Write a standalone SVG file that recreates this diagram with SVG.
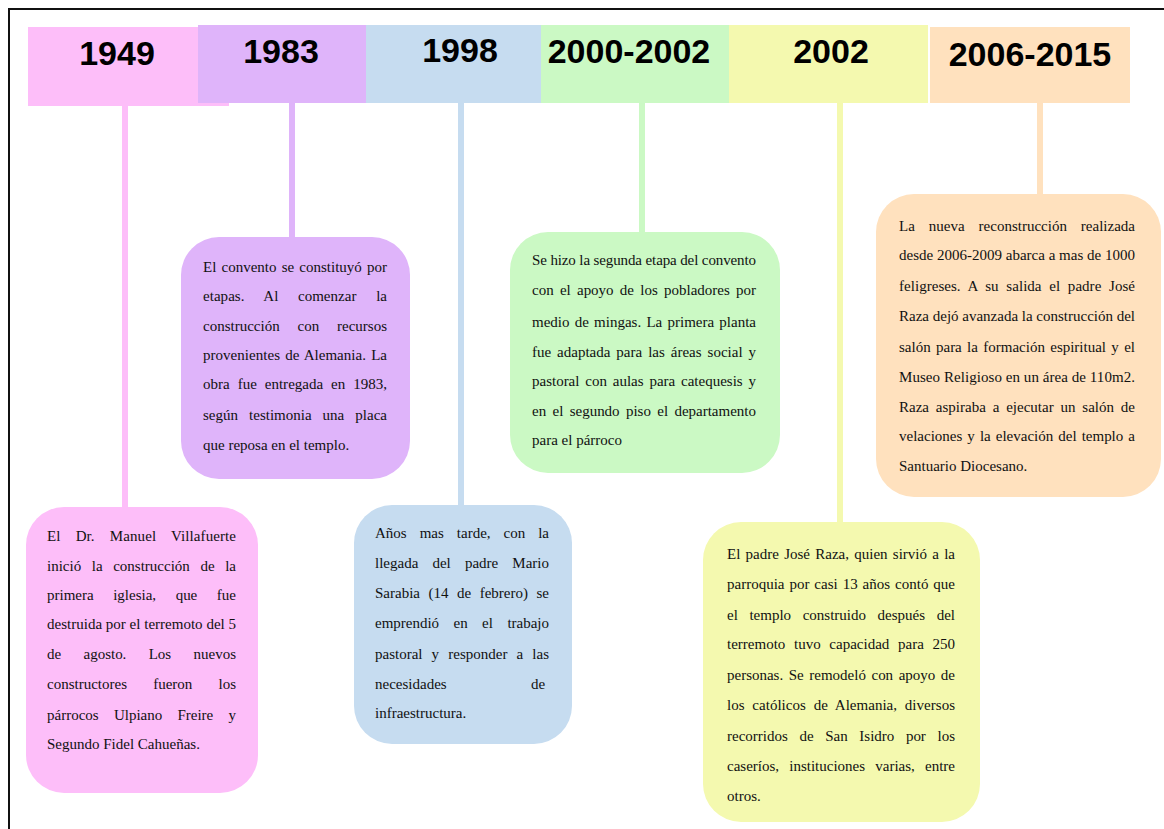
<svg xmlns="http://www.w3.org/2000/svg" width="1164" height="829" viewBox="0 0 1164 829">
<style>
.yr{font-family:"Liberation Sans",Arial,sans-serif;font-weight:bold;font-size:34px;fill:#000;text-anchor:middle}
.t{font-family:"Liberation Serif","Times New Roman",serif;font-size:15px;fill:#111}
.pink{fill:#FDBEF9}.purple{fill:#DFB4FA}.blue{fill:#C6DCF0}.green{fill:#CBF9C4}.yellow{fill:#F4F9AF}.orange{fill:#FFE1BE}
.stem{stroke-width:6}
</style>
<rect width="1164" height="829" fill="#fff"/>
<g id="frame" stroke="#111" stroke-width="2">
<line x1="8" y1="9" x2="1164" y2="9"/>
<line x1="9" y1="8" x2="9" y2="829"/>
</g>
<g id="header">
<rect class="pink" x="28" y="27" width="201" height="79"/>
<rect class="purple" x="198" y="25" width="168" height="78"/>
<rect class="blue" x="366" y="25" width="175" height="78"/>
<rect class="green" x="541" y="25" width="188" height="78"/>
<rect class="yellow" x="729" y="25" width="199" height="78"/>
<rect class="orange" x="930" y="27" width="200" height="76"/>
<text class="yr" x="117" y="65">1949</text>
<text class="yr" x="281" y="63">1983</text>
<text class="yr" x="460" y="62">1998</text>
<text class="yr" x="629" y="63">2000-2002</text>
<text class="yr" x="831" y="63">2002</text>
<text class="yr" x="1030" y="66">2006-2015</text>
</g>
<g id="connectors">
<line class="stem" x1="125" y1="105" x2="125" y2="512" stroke="#FDBEF9"/>
<line class="stem" x1="292" y1="102" x2="292" y2="242" stroke="#DFB4FA"/>
<line class="stem" x1="461" y1="102" x2="461" y2="510" stroke="#C6DCF0"/>
<line class="stem" x1="642" y1="102" x2="642" y2="237" stroke="#CBF9C4"/>
<line class="stem" x1="840" y1="102" x2="840" y2="527" stroke="#F4F9AF"/>
<line class="stem" x1="1040" y1="102" x2="1040" y2="199" stroke="#FFE1BE"/>
</g>
<g id="node-1949">
<rect class="pink" x="26" y="507" width="232" height="286" rx="38"/>
<text class="t">
<tspan x="47" y="541" word-spacing="11.3" textLength="189" lengthAdjust="spacing">El Dr. Manuel Villafuerte</tspan>
<tspan x="47" y="571" word-spacing="6.8" textLength="189" lengthAdjust="spacing">inició la construcción de la</tspan>
<tspan x="47" y="600" word-spacing="15.8" textLength="189" lengthAdjust="spacing">primera iglesia, que fue</tspan>
<tspan x="47" y="629" textLength="189" lengthAdjust="spacing">destruida por el terremoto del 5</tspan>
<tspan x="47" y="659" word-spacing="18.6" textLength="189" lengthAdjust="spacing">de agosto. Los nuevos</tspan>
<tspan x="47" y="689" word-spacing="22.4" textLength="189" lengthAdjust="spacing">constructores fueron los</tspan>
<tspan x="47" y="720" word-spacing="11.5" textLength="189" lengthAdjust="spacing">párrocos Ulpiano Freire y</tspan>
<tspan x="47" y="749">Segundo Fidel Cahueñas.</tspan>
</text>
</g>
<g id="node-1983">
<rect class="purple" x="181" y="237" width="229" height="242" rx="38"/>
<text class="t">
<tspan x="203" y="272" word-spacing="1.4" textLength="184" lengthAdjust="spacing">El convento se constituyó por</tspan>
<tspan x="203" y="301" word-spacing="15.8" textLength="184" lengthAdjust="spacing">etapas. Al comenzar la</tspan>
<tspan x="203" y="331" word-spacing="14.1" textLength="184" lengthAdjust="spacing">construcción con recursos</tspan>
<tspan x="203" y="360" word-spacing="1.3" textLength="184" lengthAdjust="spacing">provenientes de Alemania. La</tspan>
<tspan x="203" y="389" word-spacing="4.2" textLength="184" lengthAdjust="spacing">obra fue entregada en 1983,</tspan>
<tspan x="203" y="420" word-spacing="7.3" textLength="184" lengthAdjust="spacing">según testimonia una placa</tspan>
<tspan x="203" y="450">que reposa en el templo.</tspan>
</text>
</g>
<g id="node-1998">
<rect class="blue" x="354" y="505" width="218" height="239" rx="38"/>
<text class="t">
<tspan x="375" y="538" word-spacing="9.2" textLength="174" lengthAdjust="spacing">Años mas tarde, con la</tspan>
<tspan x="375" y="568" word-spacing="10.4" textLength="174" lengthAdjust="spacing">llegada del padre Mario</tspan>
<tspan x="375" y="598" word-spacing="4.8" textLength="174" lengthAdjust="spacing">Sarabia (14 de febrero) se</tspan>
<tspan x="375" y="628" word-spacing="10.7" textLength="174" lengthAdjust="spacing">emprendió en el trabajo</tspan>
<tspan x="375" y="659" word-spacing="5.4" textLength="174" lengthAdjust="spacing">pastoral y responder a las</tspan>
<tspan x="375" y="689">necesidades</tspan><tspan x="549" y="689" text-anchor="end">de</tspan>
<tspan x="375" y="718">infraestructura.</tspan>
</text>
</g>
<g id="node-2000-2002">
<rect class="green" x="510" y="232" width="270" height="241" rx="38"/>
<text class="t">
<tspan x="532" y="265" textLength="224" lengthAdjust="spacing">Se hizo la segunda etapa del convento</tspan>
<tspan x="532" y="295" word-spacing="2.5" textLength="224" lengthAdjust="spacing">con el apoyo de los pobladores por</tspan>
<tspan x="532" y="327" word-spacing="1.5" textLength="224" lengthAdjust="spacing">medio de mingas. La primera planta</tspan>
<tspan x="532" y="357" word-spacing="2.2" textLength="224" lengthAdjust="spacing">fue adaptada para las áreas social y</tspan>
<tspan x="532" y="386" word-spacing="2.1" textLength="224" lengthAdjust="spacing">pastoral con aulas para catequesis y</tspan>
<tspan x="532" y="416" word-spacing="2.6" textLength="224" lengthAdjust="spacing">en el segundo piso el departamento</tspan>
<tspan x="532" y="445">para el párroco</tspan>
</text>
</g>
<g id="node-2002">
<rect class="yellow" x="703" y="522" width="277" height="300" rx="38"/>
<text class="t">
<tspan x="727" y="559" word-spacing="1.5" textLength="228" lengthAdjust="spacing">El padre José Raza, quien sirvió a la</tspan>
<tspan x="727" y="589" word-spacing="1.2" textLength="228" lengthAdjust="spacing">parroquia por casi 13 años contó que</tspan>
<tspan x="727" y="620" word-spacing="7.8" textLength="228" lengthAdjust="spacing">el templo construido después del</tspan>
<tspan x="727" y="649" word-spacing="4.9" textLength="228" lengthAdjust="spacing">terremoto tuvo capacidad para 250</tspan>
<tspan x="727" y="680" word-spacing="1.8" textLength="228" lengthAdjust="spacing">personas. Se remodeló con apoyo de</tspan>
<tspan x="727" y="710" word-spacing="4" textLength="228" lengthAdjust="spacing">los católicos de Alemania, diversos</tspan>
<tspan x="727" y="741" word-spacing="7.9" textLength="228" lengthAdjust="spacing">recorridos de San Isidro por los</tspan>
<tspan x="727" y="771" word-spacing="6.4" textLength="228" lengthAdjust="spacing">caseríos, instituciones varias, entre</tspan>
<tspan x="727" y="801">otros.</tspan>
</text>
</g>
<g id="node-2006-2015">
<rect class="orange" x="876" y="194" width="285" height="303" rx="38"/>
<text class="t">
<tspan x="899" y="231" word-spacing="10.2" textLength="236" lengthAdjust="spacing">La nueva reconstrucción realizada</tspan>
<tspan x="899" y="260" textLength="236" lengthAdjust="spacing">desde 2006-2009 abarca a mas de 1000</tspan>
<tspan x="899" y="291" word-spacing="3.9" textLength="236" lengthAdjust="spacing">feligreses. A su salida el padre José</tspan>
<tspan x="899" y="321" textLength="236" lengthAdjust="spacing">Raza dejó avanzada la construcción del</tspan>
<tspan x="899" y="352" word-spacing="1.6" textLength="236" lengthAdjust="spacing">salón para la formación espiritual y el</tspan>
<tspan x="899" y="382" textLength="236" lengthAdjust="spacing">Museo Religioso en un área de 110m2.</tspan>
<tspan x="899" y="412" word-spacing="3.1" textLength="236" lengthAdjust="spacing">Raza aspiraba a ejecutar un salón de</tspan>
<tspan x="899" y="441" word-spacing="1.3" textLength="236" lengthAdjust="spacing">velaciones y la elevación del templo a</tspan>
<tspan x="899" y="471">Santuario Diocesano.</tspan>
</text>
</g>
</svg>
